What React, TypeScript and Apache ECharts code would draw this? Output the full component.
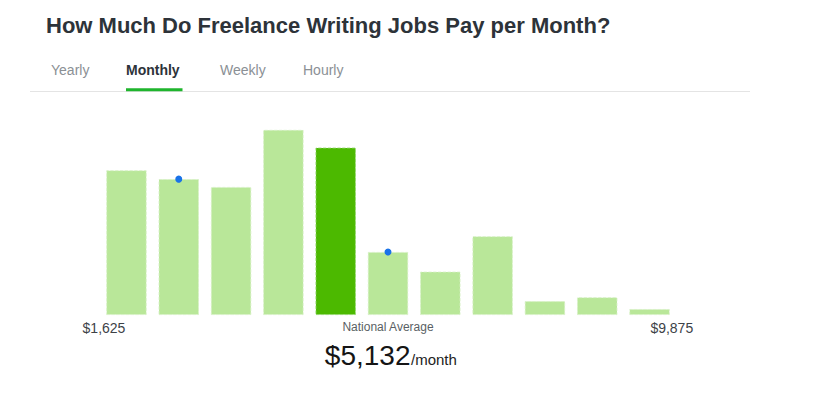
import React, { useEffect, useRef } from "react";
import * as echarts from "echarts";

// Salary distribution bins (share of jobs, %)
const binShares = [14.7, 13.8, 13.0, 18.8, 17.0, 6.4, 4.4, 8.0, 1.4, 1.8, 0.6];
const highlightIndex = 4; // national average bin
const markerBins = [1, 5]; // bins with blue markers
const rangeLabels = ["$1,625", "$9,875"];
const tabs = ["Yearly", "Monthly", "Weekly", "Hourly"];
const activeTab = "Monthly";
const titleText = "How Much Do Freelance Writing Jobs Pay per Month?";
const averageLabel = "National Average";
const averageValue = "$5,132";
const averageUnit = "/month";

const FONT = "'Liberation Sans', Arial, Helvetica, sans-serif";

export default function App() {
  const ref = useRef<HTMLDivElement>(null);
  useEffect(() => {
    if (!ref.current) return;
    const chart = echarts.init(ref.current, undefined, { renderer: "svg" });
    const categories = binShares.map((_, i) => `bin${i + 1}`);
    const tabX = [51, 126, 220, 303];
    const option: any = {
      animation: false,
      textStyle: { fontFamily: FONT },
      grid: { left: 100.3, right: 142.3, top: 125, bottom: 83 },
      xAxis: {
        type: "category",
        data: categories,
        axisLine: { show: false },
        axisTick: { show: false },
        axisLabel: { show: false },
      },
      yAxis: {
        type: "value",
        min: 0,
        max: 19.3,
        show: false,
        splitLine: { show: false },
      },
      series: [
        {
          type: "bar",
          barCategoryGap: "23%",
          data: binShares.map((v, i) => ({
            value: v,
            itemStyle: {
              color: i === highlightIndex ? "#4cb900" : "#b9e799",
              borderColor: i === highlightIndex ? "#8fd66a" : "#d6f0c4",
              borderWidth: 0.8,
              borderType: "dashed",
            },
          })),
        },
        {
          type: "scatter",
          symbolSize: 7,
          itemStyle: { color: "#1a73e8", opacity: 1 },
          data: binShares.map((v, i) => (markerBins.includes(i) ? v : null)),
          z: 5,
        },
      ],
      graphic: [
        {
          type: "text",
          style: {
            text: titleText,
            x: 46,
            y: 25,
            fontSize: 22,
            fontWeight: "bold",
            fontFamily: FONT,
            fill: "#2d3339",
            verticalAlign: "middle",
          },
        },
        ...tabs.map((t, i) => ({
          type: "text",
          style: {
            text: t,
            x: tabX[i],
            y: 70,
            fontSize: 14,
            fontWeight: t === activeTab ? "bold" : "normal",
            fontFamily: FONT,
            fill: t === activeTab ? "#2d3339" : "#8b9095",
            verticalAlign: "middle",
          },
        })),
        {
          type: "line",
          shape: { x1: 30, y1: 91.5, x2: 750, y2: 91.5 },
          style: { stroke: "#e4e4e4", lineWidth: 1 },
        },
        {
          type: "rect",
          shape: { x: 126, y: 88.3, width: 56.5, height: 3 },
          style: { fill: "#1fb52d" },
        },
        {
          type: "text",
          style: {
            text: rangeLabels[0],
            x: 104,
            y: 327.8,
            fontSize: 14,
            fontFamily: FONT,
            fill: "#3d4247",
            align: "center",
            verticalAlign: "middle",
          },
        },
        {
          type: "text",
          style: {
            text: rangeLabels[1],
            x: 671.8,
            y: 327.8,
            fontSize: 14,
            fontFamily: FONT,
            fill: "#3d4247",
            align: "center",
            verticalAlign: "middle",
          },
        },
        {
          type: "text",
          style: {
            text: averageLabel,
            x: 388,
            y: 326.5,
            fontSize: 12,
            fontFamily: FONT,
            fill: "#5a5f64",
            align: "center",
            verticalAlign: "middle",
          },
        },
        {
          type: "text",
          style: {
            text: averageValue,
            x: 410.5,
            y: 355,
            fontSize: 28,
            fontFamily: FONT,
            fill: "#151515",
            align: "right",
            verticalAlign: "middle",
          },
        },
        {
          type: "text",
          style: {
            text: averageUnit,
            x: 411,
            y: 359.8,
            fontSize: 15,
            fontFamily: FONT,
            fill: "#222222",
            align: "left",
            verticalAlign: "middle",
          },
        },
      ],
    };
    chart.setOption(option);
    return () => chart.dispose();
  }, []);
  return (
    <div
      ref={ref}
      style={{ position: "absolute", left: 0, top: 0, width: 818, height: 398, background: "#ffffff" }}
    />
  );
}
